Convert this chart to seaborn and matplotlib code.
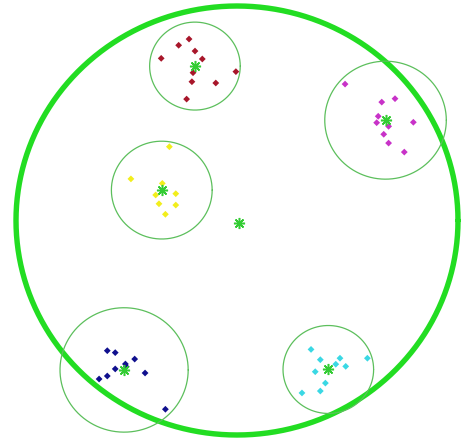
import numpy as np
import pandas as pd
import matplotlib
matplotlib.use("Agg")
import matplotlib.pyplot as plt
import seaborn as sns

# Cluster members (x, y) for five groups
red_x = [-2.17, -2.64, -1.90, -3.43, -1.57, -0.05, -1.99, -2.04, -0.96, -2.28]
red_y = [8.46, 8.17, 7.90, 7.56, 7.53, 6.94, 6.89, 6.47, 6.41, 5.66]
magenta_x = [4.89, 7.15, 6.55, 6.39, 6.32, 6.86, 7.98, 6.64, 6.86, 7.57]
magenta_y = [6.36, 5.68, 5.52, 4.86, 4.56, 4.39, 4.58, 4.02, 3.61, 3.19]
yellow_x = [-3.06, -4.80, -3.38, -3.68, -2.77, -3.53, -2.77, -3.24]
yellow_y = [3.44, 1.94, 1.73, 1.19, 1.25, 0.78, 0.72, 0.29]
blue_x = [-5.87, -5.51, -4.63, -5.05, -5.01, -5.51, -4.16, -5.87, -6.24, -3.24]
blue_y = [-6.07, -6.16, -6.46, -6.69, -6.82, -6.92, -7.11, -7.25, -7.39, -8.80]
cyan_x = [3.35, 3.77, 4.66, 4.47, 4.92, 5.90, 3.54, 4.00, 3.77, 2.94]
cyan_y = [-6.01, -6.49, -6.42, -6.70, -6.80, -6.42, -7.05, -7.58, -7.95, -8.04]

cluster_names = ["red", "magenta", "yellow", "blue", "cyan"]
cluster_radii = [2.05, 2.75, 2.28, 2.90, 2.05]
cluster_colors = {"red": "#a8162a", "magenta": "#c832c8", "yellow": "#f2ee1c",
                  "blue": "#10108e", "cyan": "#3ad8e4"}
outer_radius = 10.0

xs = [red_x, magenta_x, yellow_x, blue_x, cyan_x]
ys = [red_y, magenta_y, yellow_y, blue_y, cyan_y]
df = pd.concat(
    [pd.DataFrame({"x": x, "y": y, "cluster": n}) for n, x, y in zip(cluster_names, xs, ys)],
    ignore_index=True,
)
centers = df.groupby("cluster", sort=False)[["x", "y"]].mean()
grand = centers.mean()

sns.set_style("white")
fig = plt.figure(figsize=(4.61, 4.44), dpi=100)
ax = fig.add_axes([0, 0, 1, 1])

# outer boundary
t = np.linspace(0, 2 * np.pi, 721)
ax.plot(outer_radius * np.cos(t), outer_radius * np.sin(t),
        color="#22dd22", lw=3.9, solid_capstyle="round", zorder=1)

# cluster circles
for name, r in zip(cluster_names, cluster_radii):
    cx, cy = centers.loc[name, "x"], centers.loc[name, "y"]
    ax.plot(cx + r * np.cos(t), cy + r * np.sin(t), color="#5cbf5c", lw=0.9, zorder=1)

sns.scatterplot(data=df, x="x", y="y", hue="cluster", palette=cluster_colors,
                marker="D", s=12, linewidth=0, legend=False, ax=ax, zorder=3)

# centroids and overall centre, drawn as asterisks
asterisk = (8, 2, 0)
ax.plot(centers["x"], centers["y"], linestyle="none", marker=asterisk,
        color="#33cc33", mec="#33cc33", ms=8, mew=1.1, zorder=4)
ax.plot([grand["x"]], [grand["y"]], linestyle="none", marker=asterisk,
        color="#33cc33", mec="#33cc33", ms=8, mew=1.1, zorder=4)

ax.set_xlim(-10.724, 10.136)
ax.set_ylim(-10.420, 10.280)
ax.set_axis_off()
fig.savefig("out.png", dpi=100, facecolor="white")
